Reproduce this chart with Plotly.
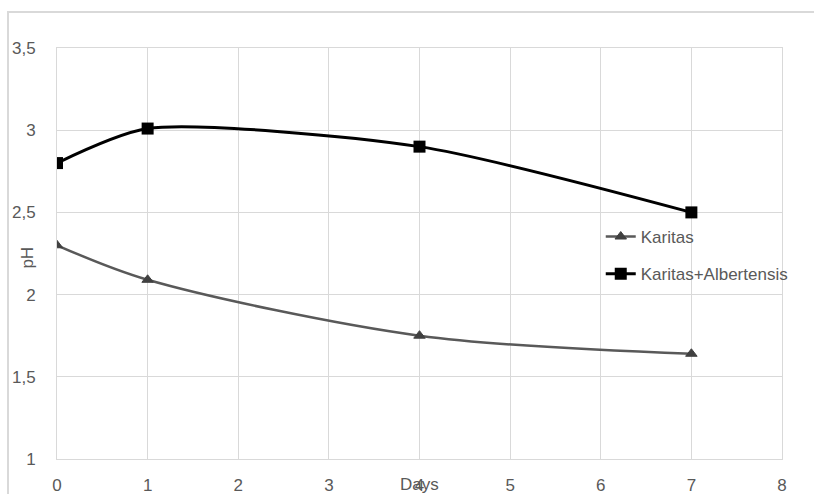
import plotly.graph_objects as go

days = [0, 1, 4, 7]
karitas = [2.30, 2.09, 1.75, 1.64]
karitas_alb = [2.80, 3.01, 2.90, 2.50]
x_ticks = [0, 1, 2, 3, 4, 5, 6, 7, 8]
y_ticks = [1, 1.5, 2, 2.5, 3, 3.5]

FONT = "Liberation Sans"
GRAY = "#595959"
GRID = "#d9d9d9"
FS = 17

fig = go.Figure()
fig.add_trace(go.Scatter(
    x=days, y=karitas, name="Karitas", mode="lines+markers",
    line=dict(color="#595959", width=2.5, shape="spline", smoothing=0.9),
    marker=dict(symbol="triangle-up", size=10, color="#404040",
                line=dict(color="#404040", width=1)),
    legendgroup="a",
))
fig.add_trace(go.Scatter(
    x=days, y=karitas_alb, name="Karitas+Albertensis", mode="lines+markers",
    line=dict(color="#000000", width=3, shape="spline", smoothing=0.7),
    marker=dict(symbol="square", size=12, color="#000000"),
    legendgroup="b",
))

fig.update_layout(
    width=814, height=494,
    margin=dict(l=57, r=32, t=48, b=35, autoexpand=False),
    paper_bgcolor="white", plot_bgcolor="white",
    separators=", ",
    font=dict(family=FONT, size=FS, color=GRAY),
    showlegend=True,
    legend=dict(x=0.75, y=0.584, xanchor="left", yanchor="top",
                bgcolor="rgba(0,0,0,0)", tracegroupgap=12,
                font=dict(family=FONT, size=FS, color=GRAY)),
    xaxis=dict(range=[0, 8], tickvals=x_ticks, showgrid=True, gridcolor=GRID,
               gridwidth=1, zeroline=False, showline=True, linecolor=GRID,
               mirror=True, ticks="", ticklabelstandoff=11, automargin=False,
               tickfont=dict(family=FONT, size=FS, color=GRAY)),
    yaxis=dict(range=[1, 3.5], tickvals=y_ticks, showgrid=True, gridcolor=GRID,
               gridwidth=1, zeroline=False, showline=True, linecolor=GRID,
               mirror=True, ticks="", ticklabelstandoff=17, automargin=False,
               tickfont=dict(family=FONT, size=FS, color=GRAY)),
    annotations=[
        dict(text="Days", xref="x", x=4, yref="paper", y=-0.063,
             xanchor="center", yanchor="middle", showarrow=False,
             font=dict(family=FONT, size=FS, color=GRAY)),
        dict(text="pH", xref="paper", x=-0.04, yref="paper", y=0.49,
             xanchor="center", yanchor="middle", showarrow=False, textangle=-90,
             font=dict(family=FONT, size=FS, color=GRAY)),
    ],
    shapes=[
        dict(type="rect", xref="paper", yref="paper",
             x0=-0.0676, x1=1.1, y0=-0.2, y1=1.0876,
             line=dict(color=GRID, width=2), layer="below"),
    ],
)

fig.write_html("out.html")
